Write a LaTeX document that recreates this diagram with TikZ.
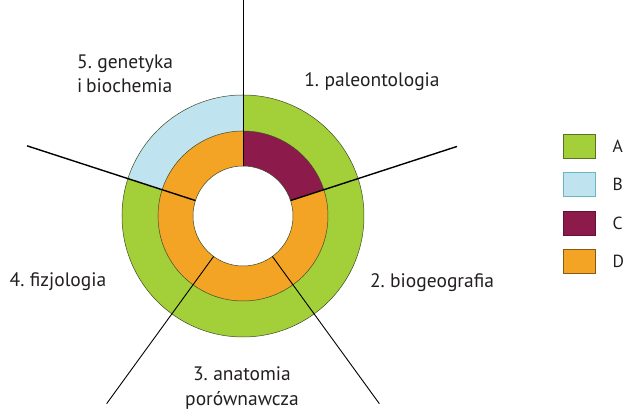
\documentclass[tikz,border=0pt]{standalone}
\usepackage{fontspec}
\setmainfont{PT Sans}[WordSpace=0.7]
\usepackage{tikz}
\usetikzlibrary{positioning}
\usepackage{xcolor}
\definecolor{FieldGreen}{HTML}{A3CF38}
\definecolor{FieldBlue}{HTML}{BFE4EF}
\definecolor{FieldPlum}{HTML}{8C1A4B}
\definecolor{FieldOrange}{HTML}{F4A424}
\definecolor{EdgeDark}{HTML}{3E4A28}
\definecolor{InkGray}{HTML}{231F20}

\begin{document}
\begin{tikzpicture}[
    x=1pt, y=1pt,
    field/.style={draw=EdgeDark, line width=0.5pt},
    divider/.style={draw=black, line width=0.9pt},
    divbold/.style={draw=black, line width=1.4pt},
    lbl/.style={font=\fontsize{19.5}{24.5}\selectfont, text=InkGray, inner sep=0pt},
    key/.style={minimum width=32pt, minimum height=24pt, inner sep=0pt, line width=0.8pt},
    keytxt/.style={font=\fontsize{17.5}{20}\selectfont, text=InkGray, inner sep=0pt}
  ]
    \useasboundingbox (-243, -195) rectangle (384, 216);
    \coordinate (c) at (0, 0);

    % outer ring
    \fill[FieldBlue] (90:121) arc[start angle=90, end angle=162, radius=121] -- (162:85) arc[start angle=162, end angle=90, radius=85] -- cycle;
    \fill[FieldGreen] (162:121) arc[start angle=162, end angle=450, radius=121] -- (90:85) arc[start angle=90, end angle=-198, radius=85] -- cycle;
    % inner ring
    \fill[FieldPlum] (18:85) arc[start angle=18, end angle=90, radius=85] -- (90:50) arc[start angle=90, end angle=18, radius=50] -- cycle;
    \fill[FieldOrange] (90:85) arc[start angle=90, end angle=378, radius=85] -- (18:50) arc[start angle=18, end angle=-270, radius=50] -- cycle;
    \draw[field] (c) circle[radius=121];
    \draw[field] (c) circle[radius=85];
    \draw[field] (c) circle[radius=50];

    % dividers
    \coordinate (in1) at (90:50);   \coordinate (out1) at (90:216);
    \coordinate (in2) at (18:50);   \coordinate (out2) at (18:225);
    \coordinate (in3) at (-54:50);  \coordinate (out3) at (-54:232);
    \coordinate (in4) at (-126:50); \coordinate (out4) at (-126:232);
    \coordinate (in5) at (162:50);  \coordinate (out5) at (162:227);
    \draw[divider] (in1) -- (out1);
    \draw[divbold] (in2) -- (out2);
    \draw[divider] (in3) -- (out3);
    \draw[divider] (in4) -- (out4);
    \draw[divbold] (in5) -- (out5);

    % labels
    \node[lbl] (paleo) at (129, 134) {1. paleontologia};
    \node[lbl] (biogeo) at (189, -67) {2. biogeografia};
    \node[lbl, align=center] (anat) at (-1, -172) {3. anatomia\\porównawcza};
    \node[lbl] (fizjo) at (-185, -66) {4. fizjologia};
    \node[lbl, align=left, anchor=west] (genet) at (-166, 142) {5. genetyka\\i biochemia};

    % legend
    \node[key, draw=FieldGreen!55!black, fill=FieldGreen] (keyA) at (336, 70) {};
    \node[key, draw=FieldBlue!55!teal, fill=FieldBlue, below=13.7pt of keyA] (keyB) {};
    \node[key, draw=FieldPlum!70!black, fill=FieldPlum, below=13.7pt of keyB] (keyC) {};
    \node[key, draw=FieldOrange!55!black, fill=FieldOrange, below=13.7pt of keyC] (keyD) {};
    \node[keytxt, right=17pt of keyA] (txtA) {A};
    \node[keytxt, right=17pt of keyB] (txtB) {B};
    \node[keytxt, right=17pt of keyC] (txtC) {C};
    \node[keytxt, right=17pt of keyD] (txtD) {D};
  \end{tikzpicture}
\end{document}
